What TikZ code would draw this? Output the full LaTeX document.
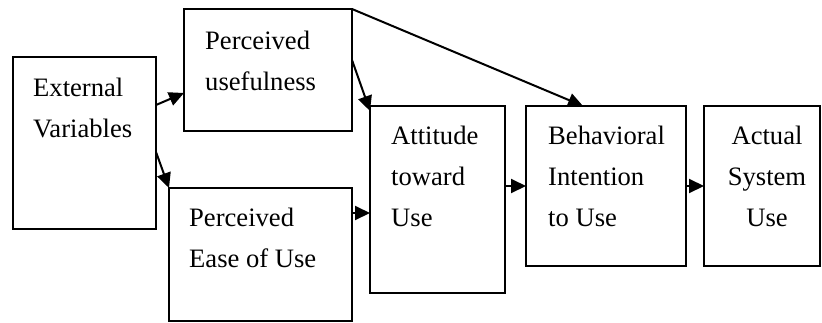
\documentclass[tikz,border=0pt]{standalone}
\usepackage{fontspec}
\setmainfont{Liberation Serif}
\usetikzlibrary{arrows.meta}
\tikzset{
  box/.style={draw, line width=2pt, rectangle, outer sep=0pt, inner sep=0pt, anchor=north west},
  lbl/.style={inner sep=0pt, align=left, anchor=base west, font=\fontsize{26.6}{41}\selectfont},
  arr/.style={line width=2pt, -{Triangle[length=15pt,width=14pt]}},
}
\begin{document}
\begin{tikzpicture}[x=1pt, y=-1pt]
  \useasboundingbox (0,0) rectangle (822,322);

  \node[box, minimum width=143pt, minimum height=172pt] (ext) at (13,57) {};
  \node[box, minimum width=168pt, minimum height=122pt] (pu) at (184,9) {};
  \node[box, minimum width=183pt, minimum height=133pt] (peou) at (169,188) {};
  \node[box, minimum width=135pt, minimum height=187pt] (att) at (370,106) {};
  \node[box, minimum width=160pt, minimum height=160pt] (bi) at (526,106) {};
  \node[box, minimum width=116pt, minimum height=160pt] (asu) at (704,106) {};

  % labels sit on the baseline of their last line
  \node[lbl] (extlbl) at (33,137.5) {External\\Variables};
  \node[lbl] (pulbl) at (205,90.3) {Perceived\\usefulness};
  \node[lbl] (peoulbl) at (189,267.8) {Perceived\\Ease of Use};
  \node[lbl] (attlbl) at (391,226) {Attitude\\toward\\Use};
  \node[lbl] (bilbl) at (548,226) {Behavioral\\Intention\\to Use};
  \node[lbl, align=center, anchor=base] (asulbl) at (767,226) {Actual\\System\\Use};

  \draw[arr] ([yshift=-48pt]ext.north east) -- ([yshift=-84pt]pu.north west);
  \draw[arr] ([yshift=-95pt]ext.north east) -- (peou.north west);
  \draw[arr] ([yshift=-51pt]pu.north east) -- ([yshift=-5pt]att.north west);
  \draw[arr] (pu.north east) -- ([xshift=57pt]bi.north west);
  \draw[arr] ([yshift=-25pt]peou.north east) -- ([yshift=-107pt]att.north west);
  \draw[arr] (att.east |- bi.west) -- (bi.west);
  \draw[arr] (bi.east) -- (asu.west);
\end{tikzpicture}
\end{document}
